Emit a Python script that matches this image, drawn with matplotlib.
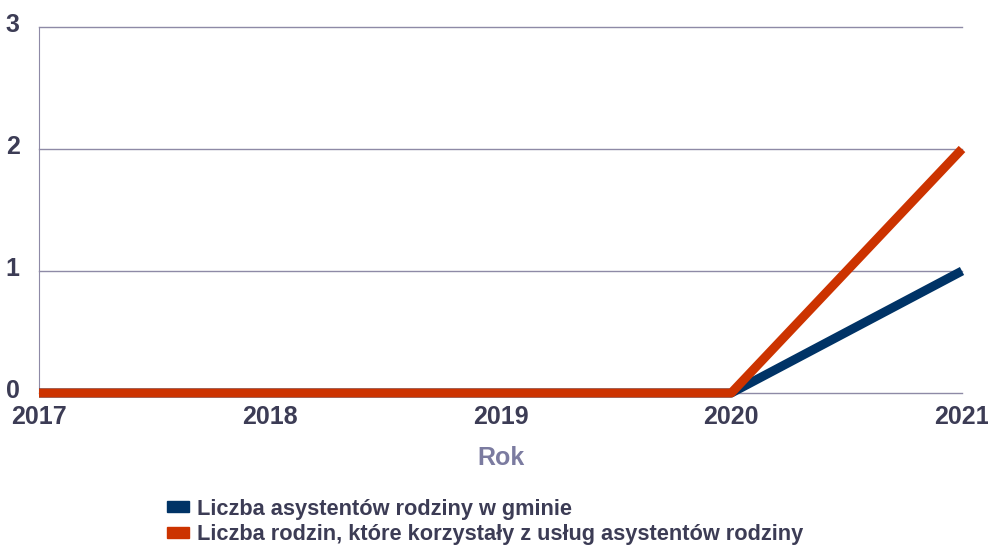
import matplotlib.pyplot as plt
import matplotlib.transforms as mtransforms
from matplotlib.patches import Patch

# data
years = ['2017', '2018', '2019', '2020', '2021']
asystenci = [0, 0, 0, 0, 1]
rodziny = [0, 0, 0, 0, 2]
labels = ['Liczba asystentów rodziny w gminie',
          'Liczba rodzin, które korzystały z usług asystentów rodziny']

blue = '#003366'
orange = '#cc3300'
txt = '#3c3c55'
gridc = '#8e8aa6'

plt.rcParams['font.family'] = ['Liberation Sans', 'DejaVu Sans']

fig = plt.figure(figsize=(9.88, 5.45), dpi=100)
ax = fig.add_axes([39 / 988, 1 - 393 / 545, 923 / 988, 366 / 545])

x = range(len(years))
ax.plot(x, asystenci, color=blue, lw=6.5, solid_capstyle='butt', clip_on=False, zorder=3)
ax.plot(x, rodziny, color=orange, lw=6.5, solid_capstyle='butt', clip_on=False, zorder=4)

ax.set_xlim(0, len(years) - 1)
ax.set_ylim(0, 3)
ax.set_yticks([0, 1, 2, 3])
ax.set_xticks(list(x))
ax.set_xticklabels(years)
ax.grid(axis='y', color=gridc, lw=1, clip_on=False)
ax.set_axisbelow(True)
for s in ['top', 'right', 'bottom']:
    ax.spines[s].set_visible(False)
ax.spines['left'].set_color(gridc)
ax.tick_params(length=0, labelsize=18, labelcolor=txt)
ax.tick_params(axis='y', pad=14)
ax.tick_params(axis='x', pad=9)
for t in ax.get_xticklabels() + ax.get_yticklabels():
    t.set_fontweight('bold')

# y labels sit a little above their grid lines
shift = mtransforms.ScaledTranslation(0, 4 / 100, fig.dpi_scale_trans)
for t in ax.get_yticklabels():
    t.set_transform(t.get_transform() + shift)

ax.set_xlabel('Rok', fontsize=18, fontweight='bold', color='#7b7ba0', labelpad=12)

handles = [Patch(color=blue), Patch(color=orange)]
leg = fig.legend(handles, labels, loc='upper left', bbox_to_anchor=(158 / 988, 1 - 490 / 545),
                 frameon=False, prop={'size': 15.7, 'weight': 'bold'},
                 handlelength=1.0, handleheight=0.4, handletextpad=0.4, labelspacing=0.2,
                 borderaxespad=0)
for t in leg.get_texts():
    t.set_color(txt)

fig.savefig('out.png', dpi=100)
